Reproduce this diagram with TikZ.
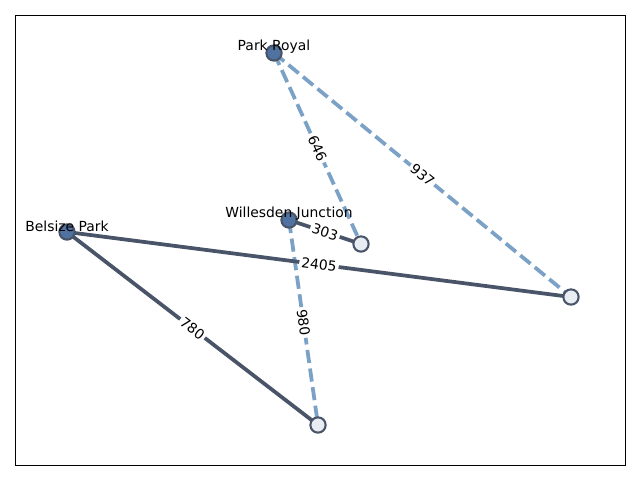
\documentclass[tikz,border=0pt]{standalone}
\usepackage{fontspec}
\setmainfont{DejaVu Sans}
\definecolor{edgedark}{RGB}{74,84,104}
\definecolor{nodeblue}{RGB}{80,114,160}
\definecolor{lightblue}{RGB}{123,161,198}
\definecolor{emptyfill}{RGB}{232,236,243}
\pgfdeclarelayer{background}
\pgfsetlayers{background,main}
\tikzset{
  fullnode/.style={circle, fill=nodeblue, draw=edgedark, line width=1.5pt, inner sep=0pt, minimum size=11pt},
  emptynode/.style={circle, fill=emptyfill, draw=edgedark, line width=1.5pt, inner sep=0pt, minimum size=11pt},
  solidedge/.style={draw=edgedark, line width=2.7pt},
  dashedge/.style={draw=lightblue, line width=2.7pt, dash pattern=on 9.5pt off 4pt},
  elabel/.style={midway, sloped, fill=white, rounded corners=2pt, inner sep=1.5pt, text=black, font=\fontsize{10}{12}\selectfont},
  namelabel/.style={text=black, inner sep=0pt, font=\fontsize{10}{12}\selectfont}
}
\begin{document}
\begin{tikzpicture}[x=0.72pt,y=-0.72pt]
\useasboundingbox (0,0) rectangle (640,480);
\draw[line width=0.7pt, black] (15,15) rectangle (625,465);

\node[fullnode] (pr) at (274,53) {};
\node[fullnode] (wj) at (289,220) {};
\node[fullnode] (bp) at (67,232) {};
\node[emptynode] (e1) at (361,244) {};
\node[emptynode] (e2) at (571,297) {};
\node[emptynode] (e3) at (318,425) {};

\begin{pgfonlayer}{background}
\draw[dashedge] (pr.center) -- node[elabel] {646} (e1.center);
\draw[dashedge] (pr.center) -- node[elabel] {937} (e2.center);
\draw[solidedge] (wj.center) -- node[elabel] {303} (e1.center);
\draw[dashedge] (wj.center) -- node[elabel] {980} (e3.center);
\draw[solidedge] (bp.center) -- node[elabel] {2405} (e2.center);
\draw[solidedge] (bp.center) -- node[elabel] {780} (e3.center);
\end{pgfonlayer}

\node[namelabel] (lpr) at (274,47) {Park Royal};
\node[namelabel] (lwj) at (289,214) {Willesden Junction};
\node[namelabel] (lbp) at (67,226) {Belsize Park};
\end{tikzpicture}
\end{document}
